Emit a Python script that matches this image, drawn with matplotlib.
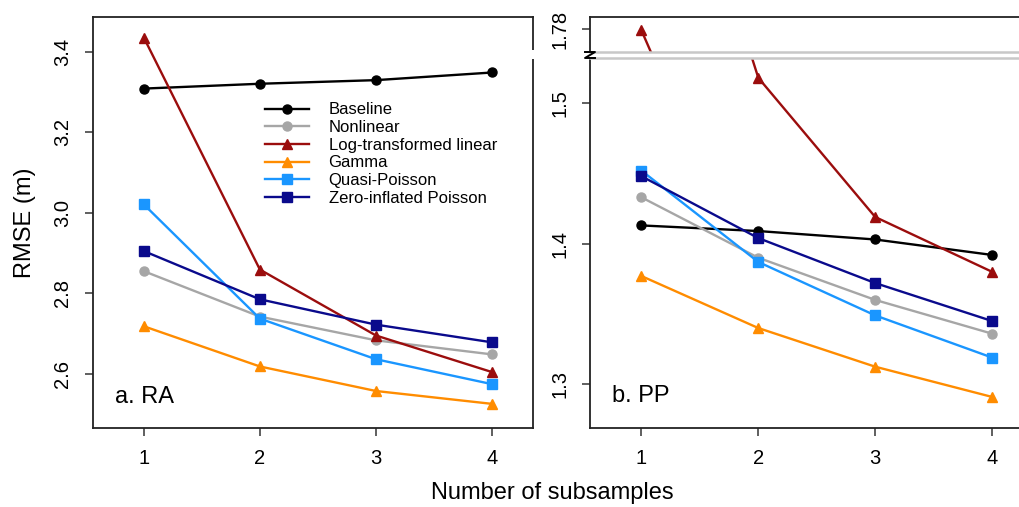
import numpy as np
import matplotlib
matplotlib.use('Agg')
from matplotlib import pyplot as plt
from matplotlib.lines import Line2D
from matplotlib.patches import Rectangle

plt.rcParams['font.family'] = ['Liberation Sans', 'DejaVu Sans']

subsamples = [1, 2, 3, 4]
names = ['Baseline', 'Nonlinear', 'Log-transformed linear', 'Gamma',
         'Quasi-Poisson', 'Zero-inflated Poisson']
colors = ['black', '#a6a6a6', '#9b0d0d', '#ff8c00', '#1a96ff', '#0a0a8c']
markers = ['o', 'o', '^', '^', 's', 's']

# panel a: RA
ra_baseline = [3.309, 3.321, 3.330, 3.349]
ra_nonlinear = [2.855, 2.742, 2.683, 2.648]
ra_logLinear = [3.436, 2.859, 2.695, 2.604]
ra_gamma = [2.718, 2.618, 2.557, 2.525]
ra_quasiPoisson = [3.021, 2.737, 2.636, 2.574]
ra_zip = [2.905, 2.785, 2.722, 2.678]

# panel b: PP
pp_baseline = [1.413, 1.409, 1.403, 1.392]
pp_nonlinear = [1.433, 1.390, 1.360, 1.336]
pp_logLinear = [1.779, 1.518, 1.419, 1.380]
pp_gamma = [1.377, 1.340, 1.3125, 1.291]
pp_quasiPoisson = [1.452, 1.387, 1.349, 1.319]
pp_zip = [1.448, 1.404, 1.372, 1.345]

ra = [ra_baseline, ra_nonlinear, ra_logLinear, ra_gamma, ra_quasiPoisson, ra_zip]
pp = [pp_baseline, pp_nonlinear, pp_logLinear, pp_gamma, pp_quasiPoisson, pp_zip]

W, H = 1019, 507
fig = plt.figure(figsize=(W / 100, H / 100), dpi=100)


def add_px_axes(x0, y0, x1, y1):
    return fig.add_axes([x0 / W, 1 - y1 / H, (x1 - x0) / W, (y1 - y0) / H])


def style(ax, xticks=True):
    for s in ax.spines.values():
        s.set_linewidth(1.3)
        s.set_color('#222222')
    ax.tick_params(axis='both', direction='out', length=6, width=1.2,
                   color='#444444', labelsize=14.5, pad=9)
    for lab in ax.get_yticklabels():
        lab.set_rotation(90)
        lab.set_va('center')
    ax.set_xlim(0.56, 4.35)
    if xticks:
        ax.set_xticks(subsamples)
    else:
        ax.set_xticks([])


def draw_lines(ax, data):
    for vals, name, c, m in zip(data, names, colors, markers):
        ax.plot(subsamples, vals, color=c, marker=m, ms=6.5, lw=1.7, label=name)


# left panel
axA = add_px_axes(92.7, 17, 532.7, 428)
draw_lines(axA, ra)
axA.set_ylim(2.465, 3.487)
axA.set_yticks([2.6, 2.8, 3.0, 3.2, 3.4])
axA.set_yticklabels(['2.6', '2.8', '3.0', '3.2', '3.4'])
style(axA)
axA.set_ylabel('RMSE (m)', fontsize=17, labelpad=12)
axA.text(0.05, 0.06, 'a. RA', transform=axA.transAxes, fontsize=17)
axA.legend(loc='upper left', bbox_to_anchor=(0.392, 0.792), frameon=False,
           fontsize=12, handlelength=2.6, handletextpad=1.2, labelspacing=0.16,
           borderpad=0, borderaxespad=0)

# right panel, broken y axis
axB = add_px_axes(590, 58, 1033, 428)
draw_lines(axB, pp)
axB.set_ylim(1.2689, 1.5321)
axB.set_yticks([1.3, 1.4, 1.5])
axB.set_yticklabels(['1.3', '1.4', '1.5'])
style(axB)
axB.text(0.05, 0.07, 'b. PP', transform=axB.transAxes, fontsize=17)

axT = add_px_axes(590, 17, 1033, 51.5)
draw_lines(axT, pp)
axT.set_ylim(1.7584, 1.792)
axT.set_yticks([1.78])
axT.set_yticklabels(['1.78'])
style(axT, xticks=False)

axB.spines['top'].set_color('#c8c8c8')
axB.spines['top'].set_linewidth(1.8)
axT.spines['bottom'].set_color('#c8c8c8')
axT.spines['bottom'].set_linewidth(1.8)

# gap in the left panel border and the zig-zag break mark
fig.patches.append(Rectangle((528 / W, 1 - 59 / H), 10 / W, 9 / H,
                             transform=fig.transFigure, facecolor='white',
                             edgecolor='none', zorder=5))
zx = np.array([585, 595, 585, 595]) / W
zy = 1 - np.array([52, 52, 58, 58]) / H
fig.lines.append(Line2D(zx, zy, transform=fig.transFigure, color='black', lw=1.4))

fig.text(552 / W, 1 - 493 / H, 'Number of subsamples', fontsize=17,
         ha='center', va='center')

fig.savefig('out.png', dpi=100)
